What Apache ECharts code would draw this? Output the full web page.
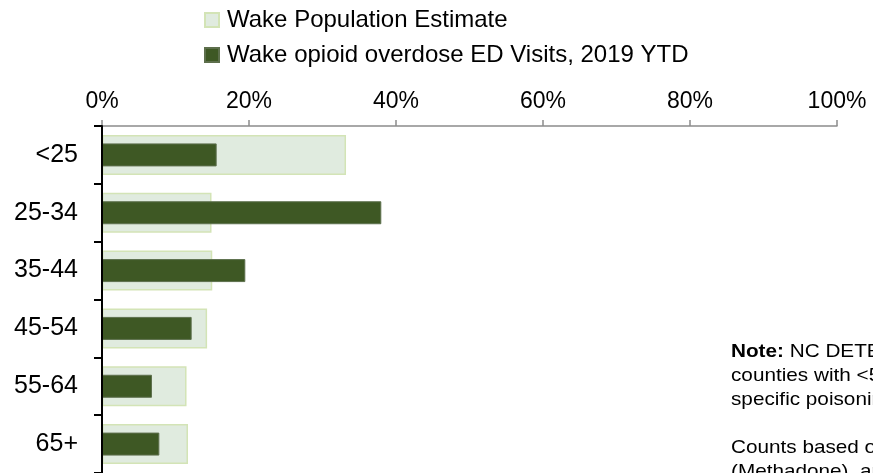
<!DOCTYPE html>
<html>
<head>
<meta charset="utf-8">
<script src="https://cdn.jsdelivr.net/npm/echarts@6/dist/echarts.min.js"></script>
<style>
html,body{margin:0;padding:0;background:#fff;}
#chart{width:873px;height:473px;}
</style>
</head>
<body>
<div id="chart"></div>
<script>
const categories = ['<25', '25-34', '35-44', '45-54', '55-64', '65+'];
const populationPct = [33.2, 14.9, 15.0, 14.3, 11.5, 11.7];
const edVisitsPct = [15.6, 38.0, 19.5, 12.2, 6.8, 7.8];
const xTicks = [0, 20, 40, 60, 80, 100];
const seriesNames = ['Wake Population Estimate', 'Wake opioid overdose ED Visits, 2019 YTD'];

const FONT = '"Liberation Sans", Arial, sans-serif';
const chart = echarts.init(document.getElementById('chart'), null, {renderer: 'canvas'});
chart.setOption({
  animation: false,
  backgroundColor: '#ffffff',
  textStyle: {fontFamily: FONT},
  legend: {
    orient: 'vertical',
    left: 204,
    top: 8,
    padding: 0,
    itemWidth: 14,
    itemHeight: 14,
    itemGap: 11,
    icon: 'rect',
    textStyle: {fontSize: 24, color: '#000', fontFamily: FONT, padding: [0, 0, 0, 3]},
    data: seriesNames
  },
  grid: {left: 102, right: 36, top: 126, height: 350, containLabel: false},
  xAxis: {
    type: 'value',
    position: 'top',
    min: 0, max: 100, interval: 20,
    axisLine: {show: true, lineStyle: {color: '#8c8c8c', width: 1.5}},
    axisTick: {show: true, inside: false, length: 6, lineStyle: {color: '#8c8c8c', width: 1.5}},
    splitLine: {show: false},
    axisLabel: {
      fontSize: 23, color: '#000', fontFamily: FONT, margin: 13,
      formatter: v => xTicks.includes(v) ? v + '%' : ''
    }
  },
  yAxis: [{
    type: 'category',
    inverse: true,
    data: categories,
    z: 5,
    axisLine: {show: true, lineStyle: {color: '#000', width: 2}},
    axisTick: {show: true, inside: false, length: 8, lineStyle: {color: '#000', width: 2}},
    axisLabel: {fontSize: 25, color: '#000', fontFamily: FONT, margin: 24}
  }, {
    type: 'category',
    inverse: true,
    data: categories,
    position: 'left',
    show: false
  }],
  series: [
    {
      name: seriesNames[0],
      type: 'bar',
      yAxisIndex: 0,
      data: populationPct,
      barWidth: 40,
      itemStyle: {color: '#e0ebdf', borderColor: '#d3e4b6', borderWidth: 1.5}
    },
    {
      name: seriesNames[1],
      type: 'bar',
      yAxisIndex: 1,
      data: edVisitsPct,
      barWidth: 23,
      z: 3,
      itemStyle: {color: '#3e5824', borderColor: '#5d6f4c', borderWidth: 1}
    }
  ],
  graphic: [{
    type: 'text',
    left: 731,
    top: 340,
    scaleX: 1.12,
    style: {
      text: '{b|Note:} NC DETECT does not report data for\ncounties with <5 visits for a\nspecific poisoning type.\n\nCounts based on T40.0 (Opium), T40.1 (Heroin), T40.3\n(Methadone), and T40.4 (Other synthetic narcotics)',
      font: '18.5px "Liberation Sans", Arial, sans-serif',
      fill: '#000',
      lineHeight: 24,
      rich: {
        b: {fontWeight: 'bold', fontSize: 18.5, fontFamily: FONT, fill: '#000', lineHeight: 24}
      }
    }
  }]
});
</script>
</body>
</html>
